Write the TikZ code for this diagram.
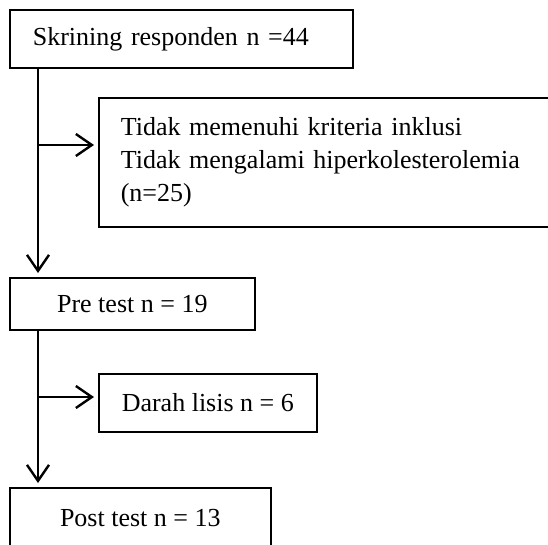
\documentclass[tikz,border=0pt]{standalone}
\usepackage{fontspec}
\setmainfont{Liberation Serif}
\usetikzlibrary{arrows.meta,positioning}

\begin{document}
\begin{tikzpicture}[x=1pt, y=-1pt, font=\fontsize{26}{33}\selectfont,
    box/.style={draw, line width=1.6pt, inner sep=0pt},
    flow/.style={line width=2.4pt, -{Straight Barb[length=16pt, width=22pt]}, shorten >=4pt}]
  \useasboundingbox (0,0) rectangle (548,545);
  \clip (0,0) rectangle (548,545);

  \node[box, anchor=north west, minimum height=58, inner xsep=23, text width=297, align=left]
    (scr) at (9,9) {Skrining responden n =44};
  \node[box, anchor=north west, inner xsep=22, inner ysep=15, text width=450, align=left]
    (excl) at (98,97) {\rule{0pt}{23pt}Tidak memenuhi kriteria inklusi\\Tidak mengalami hiperkolesterolemia\\(n=25)\rule[-10pt]{0pt}{10pt}};
  \node[box, anchor=north west, minimum width=245, minimum height=52] (pre) at (9,277) {Pre test n = 19};
  \node[box, anchor=north west, minimum width=218, minimum height=58] (lysis) at (98,373) {Darah lisis n = 6};
  \node[box, anchor=north west, minimum width=261, minimum height=60] (post) at (9,487) {Post test n = 13};

  \coordinate (t1) at (38,145);
  \coordinate (t2) at (38,397);
  \draw[flow] (scr.south -| t1) -- (pre.north -| t1);
  \draw[flow] (t1) -- (t1 -| excl.west);
  \draw[flow] (pre.south -| t2) -- (post.north -| t2);
  \draw[flow] (t2) -- (t2 -| lysis.west);
\end{tikzpicture}
\end{document}
